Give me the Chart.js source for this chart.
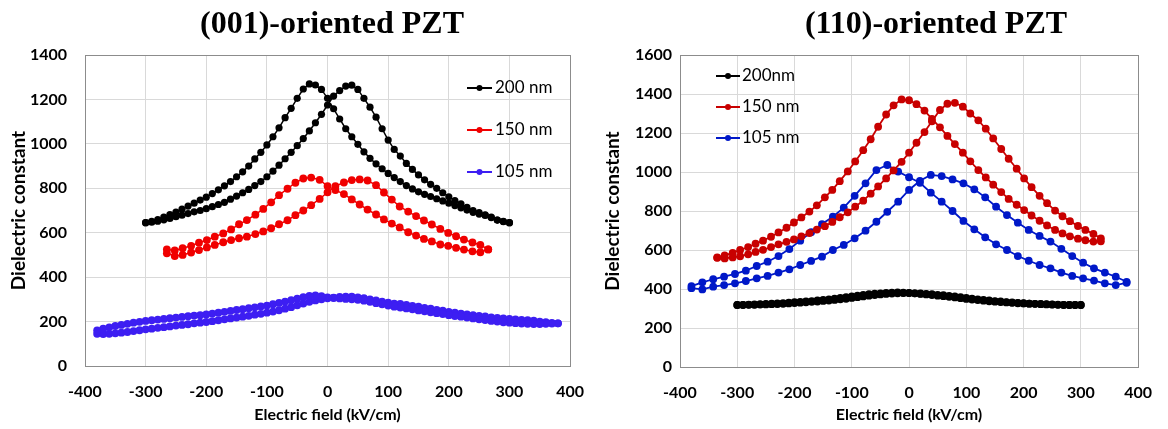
<!DOCTYPE html>
<html>
<head>
<meta charset="utf-8">
<script src="https://cdn.jsdelivr.net/npm/chart.js@4.4.1/dist/chart.umd.min.js"></script>
<style>
  html, body { margin:0; padding:0; background:#fff; }
  #wrap { position:relative; width:1168px; height:429px; overflow:hidden; background:#fff; }
  .ttl { position:absolute; top:4px; width:400px; text-align:center; font-family:"Liberation Serif","Times New Roman",serif; font-weight:bold; font-size:32px; line-height:36px; color:#000; white-space:nowrap; }
  canvas { position:absolute; top:0; }
</style>
</head>
<body>
<div id="wrap">
  <canvas id="c1" width="600" height="429" style="left:0px"></canvas>
  <canvas id="c2" width="578" height="429" style="left:590px"></canvas>
  <div class="ttl" style="left:132px">(001)-oriented PZT</div>
  <div class="ttl" style="left:736px">(110)-oriented PZT</div>
</div>
<script>
// ---------- (001)-oriented PZT ----------
const seriesLabels001 = ['200 nm', '150 nm', '105 nm'];
const field001_200 = [-300,-290,-280,-270,-260,-250,-240,-230,-220,-210,-200,-190,-180,-170,-160,-150,-140,-130,-120,-110,-100,-90,-80,-70,-60,-50,-40,-30,-20,-10,0,10,20,30,40,50,60,70,80,90,100,110,120,130,140,150,160,170,180,190,200,210,220,230,240,250,260,270,280,290,300];
const up001_200 = [645,647,652,658,664,672,679,686,694,700,708,717,727,737,751,765,780,795,812,830,852,877,904,933,962,992,1024,1058,1095,1133,1175,1215,1240,1260,1264,1245,1205,1165,1120,1068,1017,975,945,912,885,860,838,818,800,780,762,745,730,714,700,690,680,670,657,650,645];
const down001_200 = [645,651,659,670,682,693,706,720,733,747,760,776,793,811,830,852,874,900,932,962,995,1032,1072,1118,1160,1205,1247,1270,1265,1245,1205,1158,1112,1068,1032,998,964,935,910,888,867,848,830,812,797,784,773,763,753,743,733,722,712,702,692,684,678,668,657,651,645];

const field001_150 = [-265,-252,-239,-225,-212,-199,-186,-172,-159,-146,-133,-119,-106,-93,-80,-66,-53,-40,-27,-13,0,13,27,40,53,66,80,93,106,119,133,146,159,172,186,199,212,225,239,252,265];
const up001_150 = [507,495,500,511,522,534,545,557,567,575,582,594,606,620,638,656,679,700,724,752,782,810,826,837,840,835,814,781,749,718,695,675,655,637,617,599,584,569,556,545,525];
const down001_150 = [525,520,530,541,555,567,582,597,615,638,657,681,707,737,769,798,825,844,848,838,810,792,774,750,727,704,682,660,641,624,602,587,572,561,547,541,532,524,516,512,525];

const field001_105 = [-380,-370,-360,-350,-340,-330,-320,-310,-300,-290,-280,-270,-260,-250,-240,-230,-220,-210,-200,-190,-180,-170,-160,-150,-140,-130,-120,-110,-100,-90,-80,-70,-60,-50,-40,-30,-20,-10,0,10,20,30,40,50,60,70,80,90,100,110,120,130,140,150,160,170,180,190,200,210,220,230,240,250,260,270,280,290,300,310,320,330,340,350,360,370,380];
const up001_105 = [145,144,145,147,150,153,157,161,165,168,172,175,178,182,185,188,192,195,198,202,206,210,214,218,222,226,231,235,240,245,251,258,265,273,281,289,295,300,305,308,311,312,312,309,305,300,295,290,285,281,279,275,271,267,262,258,253,249,244,240,236,232,229,226,223,219,216,214,212,210,208,206,204,200,197,194,192];
const down001_105 = [160,168,174,180,185,190,195,199,203,206,209,212,215,218,221,224,227,229,232,236,240,244,248,252,256,260,264,268,272,278,284,290,296,303,310,316,318,314,309,306,304,302,300,298,294,289,283,278,272,267,263,259,255,250,246,242,238,234,229,225,222,218,214,210,207,203,200,197,195,193,191,190,189,189,190,191,192];

// ---------- (110)-oriented PZT ----------
const seriesLabels110 = ['200nm', '150 nm', '105 nm'];
const field110_200 = [-300,-290,-280,-270,-260,-250,-240,-230,-220,-210,-200,-190,-180,-170,-160,-150,-140,-130,-120,-110,-100,-90,-80,-70,-60,-50,-40,-30,-20,-10,0,10,20,30,40,50,60,70,80,90,100,110,120,130,140,150,160,170,180,190,200,210,220,230,240,250,260,270,280,290,300];
const up110_200 = [318,318,319,319,320,321,322,323,324,326,328,330,332,334,336,339,341,344,347,350,354,358,362,366,369,372,375,377,378,379,379,378,377,375,373,370,368,365,362,358,354,350,347,344,341,338,336,333,331,329,327,325,324,322,321,320,319,318,318,318,318];
const down110_200 = [318,319,320,321,322,323,325,326,328,330,332,334,336,338,341,344,347,350,354,358,362,366,370,373,376,378,380,381,382,381,380,378,375,372,369,366,363,360,357,353,349,346,343,340,337,335,333,331,329,327,326,325,324,323,322,321,320,319,318,318,318];

const field110_150 = [-335,-322,-308,-295,-281,-268,-255,-241,-228,-214,-201,-188,-174,-161,-147,-134,-121,-107,-94,-80,-67,-54,-40,-27,-13,0,13,27,40,54,67,80,94,107,121,134,147,161,174,188,201,214,228,241,255,268,281,295,308,322,335];
const up110_150 = [562,557,562,568,578,590,601,615,629,642,654,670,687,705,722,744,768,793,822,853,889,926,967,1008,1052,1099,1150,1205,1260,1318,1350,1355,1335,1300,1265,1222,1172,1118,1068,1017,967,922,878,840,802,773,748,723,703,682,660];
const down110_150 = [560,572,585,600,615,632,648,668,690,714,741,767,797,829,870,908,953,1003,1054,1112,1168,1232,1295,1342,1372,1368,1348,1315,1272,1229,1185,1143,1099,1055,1010,972,935,897,862,832,805,777,750,726,703,685,670,658,650,643,645];

const field110_105 = [-380,-361,-342,-323,-304,-285,-266,-247,-228,-209,-190,-171,-152,-133,-114,-95,-76,-57,-38,-19,0,19,38,57,76,95,114,133,152,171,190,209,228,247,266,285,304,323,342,361,380];
const up110_105 = [404,398,412,420,429,441,455,467,484,501,523,544,566,600,626,660,699,745,796,848,908,955,985,979,962,942,911,870,822,779,740,703,672,643,606,569,535,506,484,463,437];
const down110_105 = [415,434,450,463,477,494,518,540,569,605,648,691,733,771,817,878,942,1010,1036,1002,973,945,894,848,800,749,706,665,629,600,569,545,523,506,484,467,455,443,429,420,432];

// ---------- helpers ----------
function loop(xs, up, down) {
  const pts = [];
  for (let i = 0; i < xs.length; i++) pts.push({x: xs[i], y: up[i]});
  for (let i = xs.length - 1; i >= 0; i--) pts.push({x: xs[i], y: down[i]});
  return pts;
}

const frame = {
  id: 'frame',
  afterDraw(chart) {
    const {ctx, chartArea: a} = chart;
    ctx.save();
    ctx.strokeStyle = '#8c8c8c';
    ctx.lineWidth = 1;
    ctx.strokeRect(Math.round(a.left) + 0.5, Math.round(a.top) + 0.5, Math.round(a.right - a.left), Math.round(a.bottom - a.top));
    ctx.restore();
  }
};

const insideLegend = {
  id: 'insideLegend',
  afterDraw(chart, args, o) {
    const ctx = chart.ctx;
    ctx.save();
    chart.data.datasets.forEach((ds, i) => {
      const y = o.y + i * o.gap;
      ctx.strokeStyle = ds.borderColor;
      ctx.lineWidth = 2;
      ctx.beginPath(); ctx.moveTo(o.x, y); ctx.lineTo(o.x + o.len, y); ctx.stroke();
      ctx.fillStyle = ds.backgroundColor;
      ctx.beginPath(); ctx.arc(o.x + o.len / 2, y, o.r, 0, Math.PI * 2); ctx.fill();
      ctx.fillStyle = '#000';
      ctx.font = o.font;
      ctx.textAlign = 'left';
      ctx.textBaseline = 'middle';
      ctx.fillText(ds.label, o.x + o.len + o.textGap, y);
    });
    ctx.restore();
  }
};

const tickFont = {family: 'Lato', weight: 'bold', size: 16};
const xTitleFont = {family: 'Lato', weight: 'bold', size: 16};
const yTitleFont = {family: 'Lato', weight: 'bold', size: 19};

function makeOptions(cfg) {
  return {
    responsive: false,
    animation: false,
    layout: {padding: {left: 0, right: cfg.padRight, top: 55, bottom: 0}},
    plugins: {
      legend: {display: false},
      tooltip: {enabled: false},
      insideLegend: cfg.legend
    },
    scales: {
      x: {
        type: 'linear', min: -400, max: 400,
        ticks: {stepSize: 100, font: tickFont, color: '#000', padding: 16, callback: v => String(v)},
        grid: {color: '#d9d9d9', drawTicks: false},
        border: {color: '#8c8c8c'},
        title: {display: true, text: 'Electric field (kV/cm)', font: xTitleFont, color: '#000', padding: {top: 0, bottom: 5}},
        afterFit(s) { s.height = cfg.xHeight; }
      },
      y: {
        type: 'linear', min: 0, max: cfg.yMax,
        ticks: {stepSize: 200, font: tickFont, color: '#000', padding: cfg.yPad, callback: v => String(v)},
        grid: {color: '#d9d9d9', drawTicks: false},
        border: {color: '#8c8c8c'},
        title: {display: true, text: 'Dielectric constant', font: yTitleFont, color: '#000', padding: {top: cfg.yTitlePad, bottom: 0}},
        afterFit(s) { s.width = cfg.yWidth; }
      }
    }
  };
}

function ds(label, pts, color, r, bw) {
  return {label, data: pts, showLine: true, borderColor: color, backgroundColor: color,
          borderWidth: bw, pointRadius: r, pointBorderWidth: 0, pointBackgroundColor: color, tension: 0};
}

new Chart(document.getElementById('c1'), {
  type: 'scatter',
  data: {datasets: [
    ds(seriesLabels001[0], loop(field001_200, up001_200, down001_200), '#000000', 3.6, 1.5),
    ds(seriesLabels001[1], loop(field001_150, up001_150, down001_150), '#f00000', 3.9, 1.5),
    ds(seriesLabels001[2], loop(field001_105, up001_105, down001_105), '#3d1ef2', 3.9, 1.5)
  ]},
  options: makeOptions({padRight: 27, xHeight: 63, yMax: 1400, yPad: 18, yTitlePad: 7, yWidth: 85,
    legend: {x: 467, y: 88, gap: 42, len: 25, r: 3, textGap: 3, font: '17px Lato'}}),
  plugins: [frame, insideLegend]
});

new Chart(document.getElementById('c2'), {
  type: 'scatter',
  data: {datasets: [
    ds(seriesLabels110[0], loop(field110_200, up110_200, down110_200), '#000000', 3.9, 1.5),
    ds(seriesLabels110[1], loop(field110_150, up110_150, down110_150), '#c80000', 3.9, 1.8),
    ds(seriesLabels110[2], loop(field110_105, up110_105, down110_105), '#0018c8', 3.9, 1.8)
  ]},
  options: makeOptions({padRight: 19, xHeight: 62, yMax: 1600, yPad: 8, yTitlePad: 11, yWidth: 90,
    legend: {x: 126, y: 76, gap: 31, len: 24, r: 3, textGap: 2, font: '17px Lato'}}),
  plugins: [frame, insideLegend]
});
</script>
</body>
</html>
